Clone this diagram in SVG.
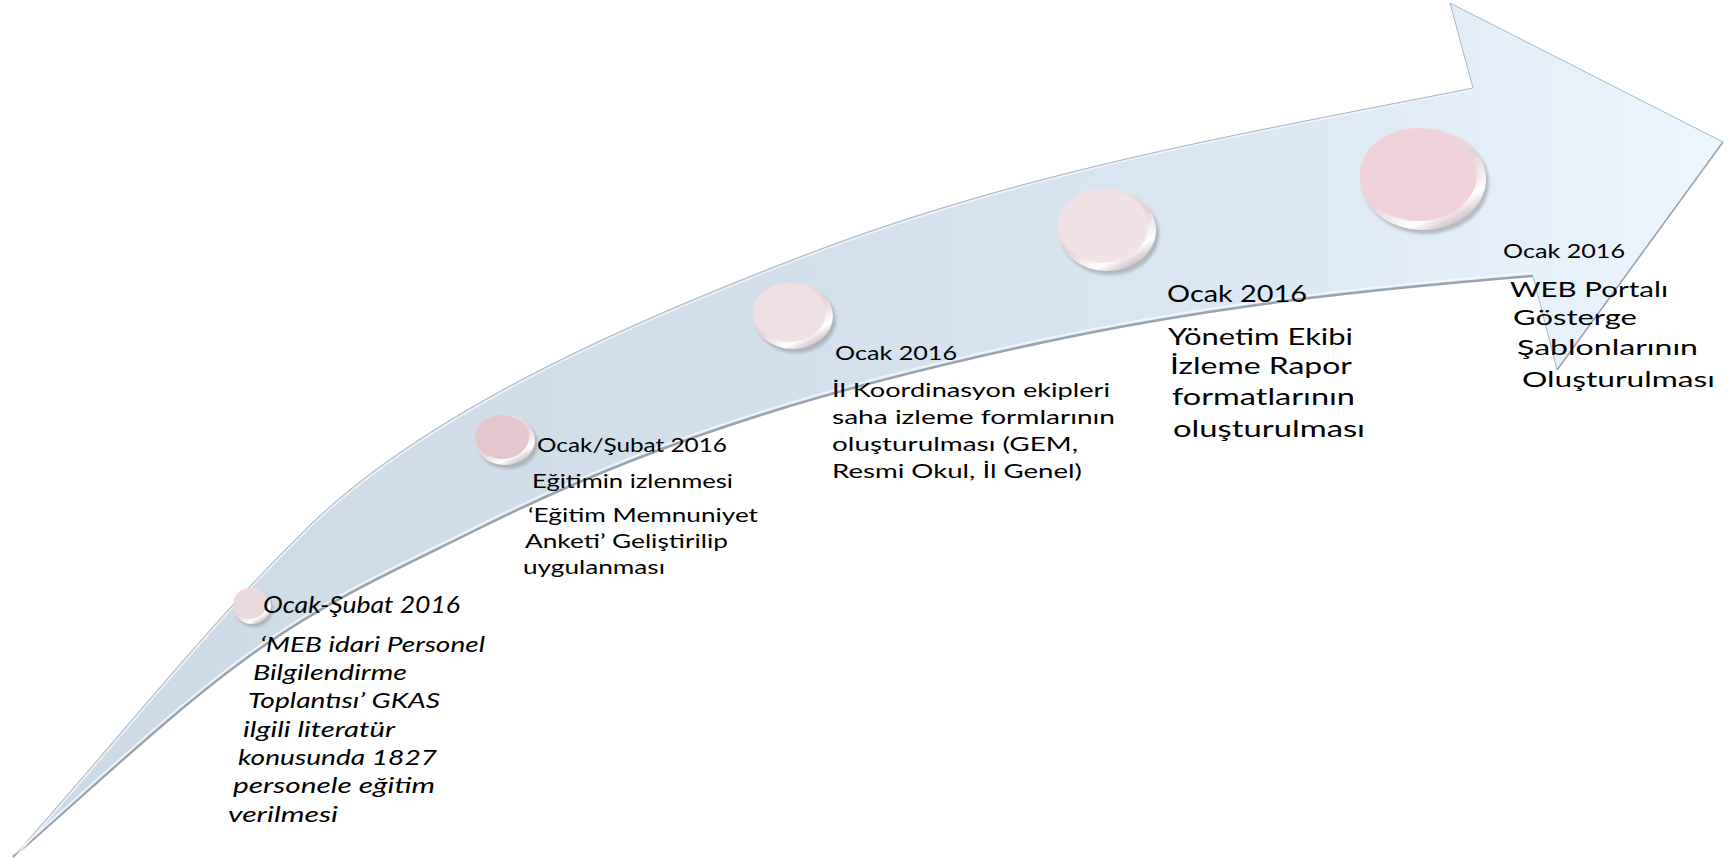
<svg xmlns="http://www.w3.org/2000/svg" width="1729" height="859" viewBox="0 0 1729 859">
<style>
.t{font-family:Lato,"Liberation Sans",sans-serif;fill:#000}
.i{font-style:italic}
.rim{fill:url(#rimG)}
.sh{fill:#7d8088;opacity:.45;filter:url(#blur)}
</style>
<defs>
<linearGradient id="bandG" gradientUnits="userSpaceOnUse" x1="0" y1="0" x2="1729" y2="0">
<stop offset="0" stop-color="#cdd9e5"/>
<stop offset="0.45" stop-color="#d3dfeb"/>
<stop offset="0.75" stop-color="#dce8f4"/>
<stop offset="1" stop-color="#eef6fd"/>
</linearGradient>
<linearGradient id="rimG" x1="0.1" y1="0" x2="0.75" y2="1">
<stop offset="0" stop-color="#f4e8eb"/>
<stop offset="0.55" stop-color="#e6d2d7"/>
<stop offset="0.82" stop-color="#ffffff"/>
<stop offset="1" stop-color="#c4aeb4"/>
</linearGradient>
<filter id="blur" x="-20%" y="-20%" width="140%" height="140%"><feGaussianBlur stdDeviation="1.5"/></filter>
</defs>

<g id="connectors">
<path id="arrow" d="M13,857 C110,748 215,618 293,542 C413,415 632,322 792,260 C1022,170 1243,134 1473,88 L1450,3 L1723,142 L1557,370 L1533,276 C1373,289 1210,306 1040,343 C850,384 670,433 480,528 C408,564 337,595 265,645 C181,703 97,784 13,857 Z" fill="url(#bandG)" stroke="#aab6c2" stroke-width="1"/>
<path d="M1533,276 C1373,289 1210,306 1040,343 C850,384 670,433 480,528 C408,564 337,595 265,645 C181,703 97,784 13,857" fill="none" stroke="#98a3ae" stroke-width="2.5"/>
<path d="M1533,273 C1373,286 1210,303 1040,340 C850,381 670,430 480,525 C408,561 337,592 265,642 C181,700 97,781 15,853" fill="none" stroke="#f6f9fc" stroke-width="2" opacity="0.8"/>
<path d="M1723,142 L1557,370" fill="none" stroke="#98a3ae" stroke-width="1.5"/>
<path d="M13,857 C110,748 215,618 293,542 C413,415 632,322 792,260 C1022,170 1243,134 1473,88" fill="none" stroke="#f2f6fa" stroke-width="1.2" transform="translate(1,1.5)"/>
</g>

<g id="node-1">
<ellipse class="sh" cx="254" cy="609" rx="19" ry="18"/>
<ellipse class="rim" cx="252" cy="606" rx="19" ry="18"/>
<ellipse cx="250" cy="603.5" rx="16.5" ry="15.5" fill="#ead9dd"/>
<text class="t i" font-size="23" x="263" y="613" textLength="197" lengthAdjust="spacingAndGlyphs">Ocak-Şubat 2016</text>
<g class="t i" font-size="22">
<text x="260" y="652" textLength="225" lengthAdjust="spacingAndGlyphs">‘MEB idari Personel</text>
<text x="253" y="680" textLength="154" lengthAdjust="spacingAndGlyphs">Bilgilendirme</text>
<text x="248" y="708" textLength="192" lengthAdjust="spacingAndGlyphs">Toplantısı’ GKAS</text>
<text x="243" y="737" textLength="152" lengthAdjust="spacingAndGlyphs">ilgili literatür</text>
<text x="238" y="765" textLength="199" lengthAdjust="spacingAndGlyphs">konusunda 1827</text>
<text x="233" y="793" textLength="202" lengthAdjust="spacingAndGlyphs">personele eğitim</text>
<text x="228" y="822" textLength="110" lengthAdjust="spacingAndGlyphs">verilmesi</text>
</g>
</g>

<g id="node-2">
<ellipse class="sh" cx="508" cy="444" rx="30" ry="25"/>
<ellipse class="rim" cx="505" cy="440" rx="30" ry="25"/>
<ellipse cx="502" cy="437" rx="27" ry="22" fill="#e4c6ce"/>
<g class="t" font-size="19">
<text x="537" y="452" textLength="190" lengthAdjust="spacingAndGlyphs">Ocak/Şubat 2016</text>
<text x="532" y="488" textLength="201" lengthAdjust="spacingAndGlyphs">Eğitimin izlenmesi</text>
<text x="528" y="522" textLength="230" lengthAdjust="spacingAndGlyphs">‘Eğitim Memnuniyet</text>
<text x="525" y="548" textLength="203" lengthAdjust="spacingAndGlyphs">Anketi’ Geliştirilip</text>
<text x="523" y="574" textLength="142" lengthAdjust="spacingAndGlyphs">uygulanması</text>
</g>
</g>

<g id="node-3">
<ellipse class="sh" cx="796" cy="320" rx="40" ry="33"/>
<ellipse class="rim" cx="793" cy="316" rx="40" ry="33"/>
<ellipse cx="789.5" cy="312.5" rx="36.5" ry="29.5" fill="#eee0e4"/>
<g class="t" font-size="20">
<text x="835" y="360" textLength="122" lengthAdjust="spacingAndGlyphs">Ocak 2016</text>
<text x="832" y="397" textLength="278" lengthAdjust="spacingAndGlyphs">İl Koordinasyon ekipleri</text>
<text x="832" y="424" textLength="283" lengthAdjust="spacingAndGlyphs">saha izleme formlarının</text>
<text x="832" y="451" textLength="246" lengthAdjust="spacingAndGlyphs">oluşturulması (GEM,</text>
<text x="832" y="478" textLength="250" lengthAdjust="spacingAndGlyphs">Resmi Okul, İl Genel)</text>
</g>
</g>

<g id="node-4">
<ellipse class="sh" cx="1110" cy="234" rx="49" ry="41"/>
<ellipse class="rim" cx="1107" cy="230" rx="49" ry="41"/>
<ellipse cx="1103" cy="226" rx="45" ry="37" fill="#f1e2e6"/>
<g class="t" font-size="22.5">
<text x="1167" y="302" textLength="140" lengthAdjust="spacingAndGlyphs">Ocak 2016</text>
<text x="1168" y="345" textLength="185" lengthAdjust="spacingAndGlyphs">Yönetim Ekibi</text>
<text x="1170" y="374" textLength="182" lengthAdjust="spacingAndGlyphs">İzleme Rapor</text>
<text x="1172" y="405" textLength="183" lengthAdjust="spacingAndGlyphs">formatlarının</text>
<text x="1173" y="437" textLength="192" lengthAdjust="spacingAndGlyphs">oluşturulması</text>
</g>
</g>

<g id="node-5">
<ellipse class="sh" cx="1426" cy="183" rx="63" ry="51"/>
<ellipse class="rim" cx="1423" cy="179" rx="63" ry="51"/>
<ellipse cx="1418.5" cy="174.5" rx="58.5" ry="46.5" fill="#f1d2db"/>
<text class="t" font-size="19.5" x="1503" y="258" textLength="122" lengthAdjust="spacingAndGlyphs">Ocak 2016</text>
<g class="t" font-size="22">
<text x="1510" y="297" textLength="158" lengthAdjust="spacingAndGlyphs">WEB Portalı</text>
<text x="1513" y="325" textLength="124" lengthAdjust="spacingAndGlyphs">Gösterge</text>
<text x="1517" y="355" textLength="181" lengthAdjust="spacingAndGlyphs">Şablonlarının</text>
<text x="1522" y="387" textLength="193" lengthAdjust="spacingAndGlyphs">Oluşturulması</text>
</g>
</g>
</svg>
